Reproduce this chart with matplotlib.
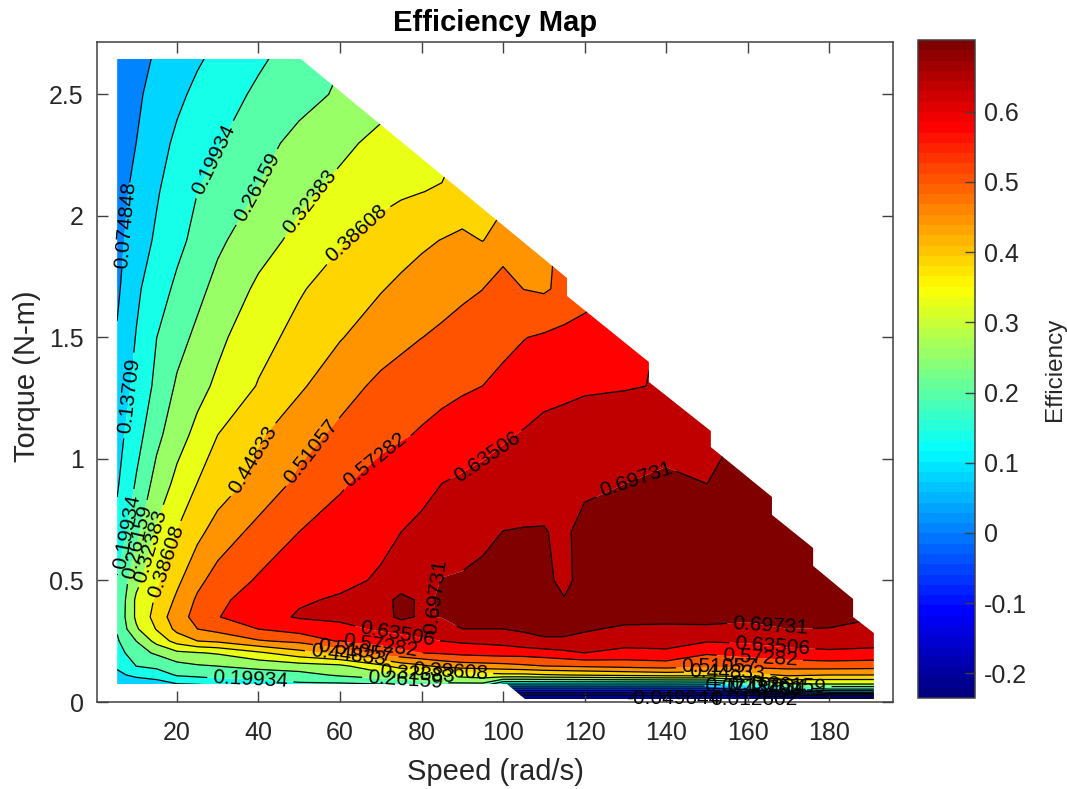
import matplotlib
matplotlib.use('Agg')
import matplotlib.pyplot as plt
from matplotlib.patches import Polygon
from matplotlib.cm import ScalarMappable
from matplotlib.colors import Normalize, LinearSegmentedColormap
import numpy as np

plt.rcParams['font.family'] = ['Liberation Sans', 'DejaVu Sans']

speed = [5.3, 10, 15, 20, 25, 30, 40, 50, 60, 70, 75, 80, 85, 90, 95, 100, 105, 110, 115, 120,
         130, 140, 150, 160, 170, 180, 191.4]
torque = [0.012, 0.025, 0.04, 0.053, 0.074, 0.111, 0.148, 0.202, 0.251, 0.30, 0.35, 0.42, 0.5,
          0.7, 0.9, 1.1, 1.3, 1.5, 1.7, 1.9, 2.1, 2.3, 2.5, 2.65]

# efficiency, one row per torque, bottom row first
efficiency = [
    [-.2, -.2, -.2, -.2, -.2, -.2, -.2, -.2, -.2, -.2, -.2, -.2, -.2, -.2, -.2, -.23, -.23, -.23, -.23, -.23, -.23, -.23, -.23, -.23, -.23, -.2, -.2],
    [-.1, -.1, -.1, -.1, -.1, -.1, -.1, -.1, -.1, -.1, -.1, -.1, -.1, -.1, -.1, -.19, -.19, -.19, -.19, -.19, -.19, -.19, -.19, -.19, -.15, -.11, -.11],
    [0, 0, 0, 0, 0, 0, 0, 0, 0, 0, 0, 0, 0, 0, 0, -.10, -.10, -.10, -.10, -.10, -.10, -.10, -.10, -.06, .012, .075, .075],
    [.05, .06, .07, .08, .09, .10, .11, .12, .13, .13, .13, .13, .13, .13, .13, -.02, -.02, -.02, -.02, -.02, -.02, -.02, -.02, .03, .137, .199, .199],
    [.09, .10, .11, .135, .14, .15, .165, .19, .19, .20, .22, .24, .25, .25, .25, .14, .137, .137, .137, .137, .137, .137, .14, .22, .32, .324, .324],
    [.125, .15, .165, .205, .215, .225, .23, .24, .27, .30, .305, .31, .335, .345, .36, .37, .37, .38, .385, .39, .40, .41, .41, .42, .46, .448, .448],
    [.145, .20, .215, .24, .255, .262, .28, .295, .31, .37, .415, .435, .465, .48, .485, .49, .50, .51, .515, .52, .53, .54, .52, .53, .535, .54, .535],
    [.17, .24, .27, .31, .32, .33, .375, .425, .465, .535, .555, .573, .58, .59, .595, .60, .60, .607, .62, .635, .62, .625, .58, .595, .615, .625, .62],
    [.192, .262, .345, .41, .448, .46, .505, .525, .58, .595, .61, .625, .635, .645, .65, .655, .675, .69, .69, .675, .655, .655, .64, .645, .66, .66, .655],
    [.205, .315, .39, .465, .51, .53, .573, .60, .615, .645, .655, .66, .665, .697, .697, .697, .705, .71, .71, .705, .685, .685, .69, .68, .697, .695, .68],
    [.21, .335, .41, .485, .53, .57, .615, .64, .65, .675, .71, .69, .70, .71, .71, .71, .715, .715, .715, .715, .72, .715, .71, .71, .72, .72, .70],
    [.205, .335, .395, .46, .52, .56, .60, .63, .64, .665, .72, .685, .705, .715, .72, .72, .72, .715, .70, .72, .73, .73, .73, .73, .73, .73, .72],
    [.205, .305, .377, .435, .495, .535, .58, .605, .625, .64, .65, .665, .70, .705, .715, .72, .715, .71, .685, .715, .73, .735, .735, .735, .73, .73, .72],
    [.155, .245, .332, .388, .432, .475, .53, .573, .60, .625, .635, .645, .655, .665, .68, .698, .70, .70, .688, .715, .725, .73, .73, .73, .73, .73, .73],
    [.13, .205, .285, .34, .387, .415, .47, .525, .565, .598, .61, .622, .635, .645, .655, .665, .672, .678, .683, .686, .697, .71, .697, .715, .725, .73, .74],
    [.115, .175, .245, .30, .34, .386, .44, .485, .525, .555, .567, .578, .59, .60, .612, .627, .64, .65, .652, .655, .665, .672, .68, .705, .72, .73, .74],
    [.095, .155, .213, .27, .305, .335, .39, .44, .485, .525, .54, .55, .558, .566, .573, .585, .597, .618, .625, .63, .632, .638, .66, .68, .70, .72, .73],
    [.08, .14, .199, .24, .275, .31, .365, .405, .445, .48, .495, .51, .52, .532, .545, .56, .571, .58, .59, .60, .62, .64, .66, .68, .70, .72, .73],
    [.065, .125, .175, .21, .245, .28, .335, .38, .415, .445, .46, .475, .49, .50, .51, .545, .51, .503, .525, .545, .58, .60, .62, .64, .66, .68, .70],
    [.055, .11, .145, .185, .215, .25, .30, .34, .38, .41, .425, .438, .45, .46, .447, .47, .485, .50, .52, .545, .57, .59, .61, .63, .65, .67, .69],
    [.05, .093, .132, .165, .199, .22, .265, .31, .34, .368, .378, .385, .392, .41, .42, .435, .46, .48, .505, .52, .55, .58, .60, .62, .64, .66, .68],
    [.04, .075, .115, .148, .175, .195, .24, .28, .31, .34, .355, .37, .36, .39, .41, .43, .45, .47, .49, .51, .54, .57, .59, .61, .63, .65, .67],
    [.03, .065, .095, .125, .15, .172, .21, .24, .27, .30, .315, .33, .35, .37, .39, .41, .43, .45, .47, .49, .52, .55, .58, .60, .62, .64, .66],
    [.03, .06, .08, .11, .13, .15, .19, .225, .258, .29, .305, .32, .335, .35, .365, .38, .395, .41, .425, .44, .47, .50, .53, .56, .59, .62, .65],
]

levels = [-0.23638, -0.17414, -0.11189, -0.049644, 0.012602, 0.074848, 0.13709, 0.19934, 0.26159,
          0.32383, 0.38608, 0.44833, 0.51057, 0.57282, 0.63506, 0.69731, 0.80]

# outline of the measured region
edge_speed = [5.3, 5.3, 50.4, 115.7, 115.7, 135.8, 135.8, 151.0, 151.0, 166.0, 166.0, 176.1, 176.1,
              185.9, 185.9, 191.0, 191.0, 105.4, 101.0]
edge_torque = [0.074, 2.646, 2.646, 1.745, 1.671, 1.399, 1.317, 1.115, 1.049, 0.844, 0.770, 0.634,
               0.560, 0.424, 0.350, 0.284, 0.012, 0.012, 0.074]

# contour labels: level, speed, torque
label_spots = [
    (0.074848, 8.0, 1.96), (0.13709, 8.8, 1.26),
    (0.19934, 29.5, 2.23), (0.19934, 8.0, 0.70), (0.19934, 38.0, 0.09),
    (0.26159, 39.5, 2.12), (0.26159, 10.0, 0.66), (0.26159, 76.0, 0.09), (0.26159, 170.0, 0.046),
    (0.32383, 53.0, 2.05), (0.32383, 14.0, 0.64), (0.32383, 79.0, 0.10),
    (0.38608, 64.5, 1.92), (0.38608, 17.0, 0.58), (0.38608, 87.0, 0.115),
    (0.44833, 39.5, 0.99), (0.44833, 62.0, 0.20), (0.44833, 155.0, 0.11),
    (0.51057, 54.5, 1.01), (0.51057, 64.0, 0.22), (0.51057, 153.0, 0.13),
    (0.57282, 69.5, 0.98), (0.57282, 70.0, 0.235), (0.57282, 163.0, 0.17),
    (0.63506, 97.5, 0.98), (0.63506, 74.0, 0.27), (0.63506, 166.0, 0.215),
    (0.69731, 133.0, 0.90), (0.69731, 86.0, 0.42), (0.69731, 165.5, 0.31),
    (0.13709, 164.0, 0.055), (0.19934, 165.0, 0.05), (0.074848, 160.0, 0.04),
]

# these two sit below their lines in the reference
loose_labels = ['-0.049644', '0.012602']
loose_speed = [141.7, 161.6]
loose_torque = [0.016, 0.012]

x_ticks = [20, 40, 60, 80, 100, 120, 140, 160, 180]
y_ticks = [0, 0.5, 1, 1.5, 2, 2.5]
y_tick_labels = ['0', '0.5', '1', '1.5', '2', '2.5']
bar_ticks = [-0.2, -0.1, 0, 0.1, 0.2, 0.3, 0.4, 0.5, 0.6]
bar_tick_labels = ['-0.2', '-0.1', '0', '0.1', '0.2', '0.3', '0.4', '0.5', '0.6']

ink = '#404040'
text_ink = '#262626'

# matlab's jet, not matplotlib's
jet = LinearSegmentedColormap('matlab_jet', {
    'red': [(0, 0, 0), (0.375, 0, 0), (0.625, 1, 1), (0.875, 1, 1), (1, 0.5, 0.5)],
    'green': [(0, 0, 0), (0.125, 0, 0), (0.375, 1, 1), (0.625, 1, 1), (0.875, 0, 0), (1, 0, 0)],
    'blue': [(0, 0.5, 0.5), (0.125, 1, 1), (0.375, 1, 1), (0.625, 0, 0), (1, 0, 0)],
}, N=64)
norm = Normalize(-0.235, 0.702)
band_colors = [jet(norm(v)) for v in levels[:-1]]

fig = plt.figure(figsize=(10.67, 7.89), dpi=100)
ax = fig.add_axes([97 / 1067, 87 / 789, 796 / 1067, 660 / 789])

ax.set_xlim(0.37, 195.7)
ax.set_ylim(0, 2.716)

Z = np.array(efficiency)
filled = ax.contourf(speed, torque, Z, levels=levels, colors=band_colors, antialiased=True)
lines = ax.contour(speed, torque, Z, levels=levels[:-1], colors='k', linewidths=0.9, linestyles='solid')

outline = Polygon(np.column_stack([edge_speed, edge_torque]), closed=True, transform=ax.transData)
filled.set_clip_path(outline)
lines.set_clip_path(outline)

# clabel(manual=...) can't be held to one level, so set the level index by hand
lines.clabel(levels[:-1], manual=[], fontsize=15, fmt='%.5g')
level_list = list(lines.levels)
for lev, sx, ty in label_spots:
    lines.labelIndiceList = [level_list.index(lev)]
    lines.add_label_near(sx, ty, inline=True, inline_spacing=2)
for txt, sx, ty in zip(loose_labels, loose_speed, loose_torque):
    ax.text(sx, ty, txt, fontsize=15, color='k', ha='center', va='center', clip_on=False)

ax.set_xticks(x_ticks)
ax.set_yticks(y_ticks)
ax.set_yticklabels(y_tick_labels)
ax.tick_params(direction='in', top=True, right=True, length=8, width=1, color=ink,
               labelcolor=text_ink, labelsize=18)
ax.tick_params(axis='x', pad=14)
ax.tick_params(axis='y', pad=9.5)
for s in ax.spines.values():
    s.set_color(ink)
    s.set_linewidth(1.1)
ax.set_xlabel('Speed (rad/s)', fontsize=21, color=text_ink, labelpad=9)
ax.set_ylabel('Torque (N-m)', fontsize=21, color=text_ink, labelpad=6)
ax.yaxis.label.set_y(0.494)
ax.set_title('Efficiency Map', fontsize=21, fontweight='bold', color='k', pad=8)

cax = fig.add_axes([918 / 1067, 91 / 789, 57 / 1067, 658 / 789])
cb = fig.colorbar(ScalarMappable(norm=norm, cmap=jet), cax=cax)
cb.set_ticks(bar_ticks)
cb.set_ticklabels(bar_tick_labels)
cb.ax.tick_params(direction='in', length=7, width=1, color=ink, labelcolor=text_ink, labelsize=18, pad=6.5)
cb.outline.set_edgecolor(ink)
cb.outline.set_linewidth(1.1)
cb.set_label('Efficiency', fontsize=17.5, color=text_ink, labelpad=12)

fig.savefig('out.png', dpi=100)
